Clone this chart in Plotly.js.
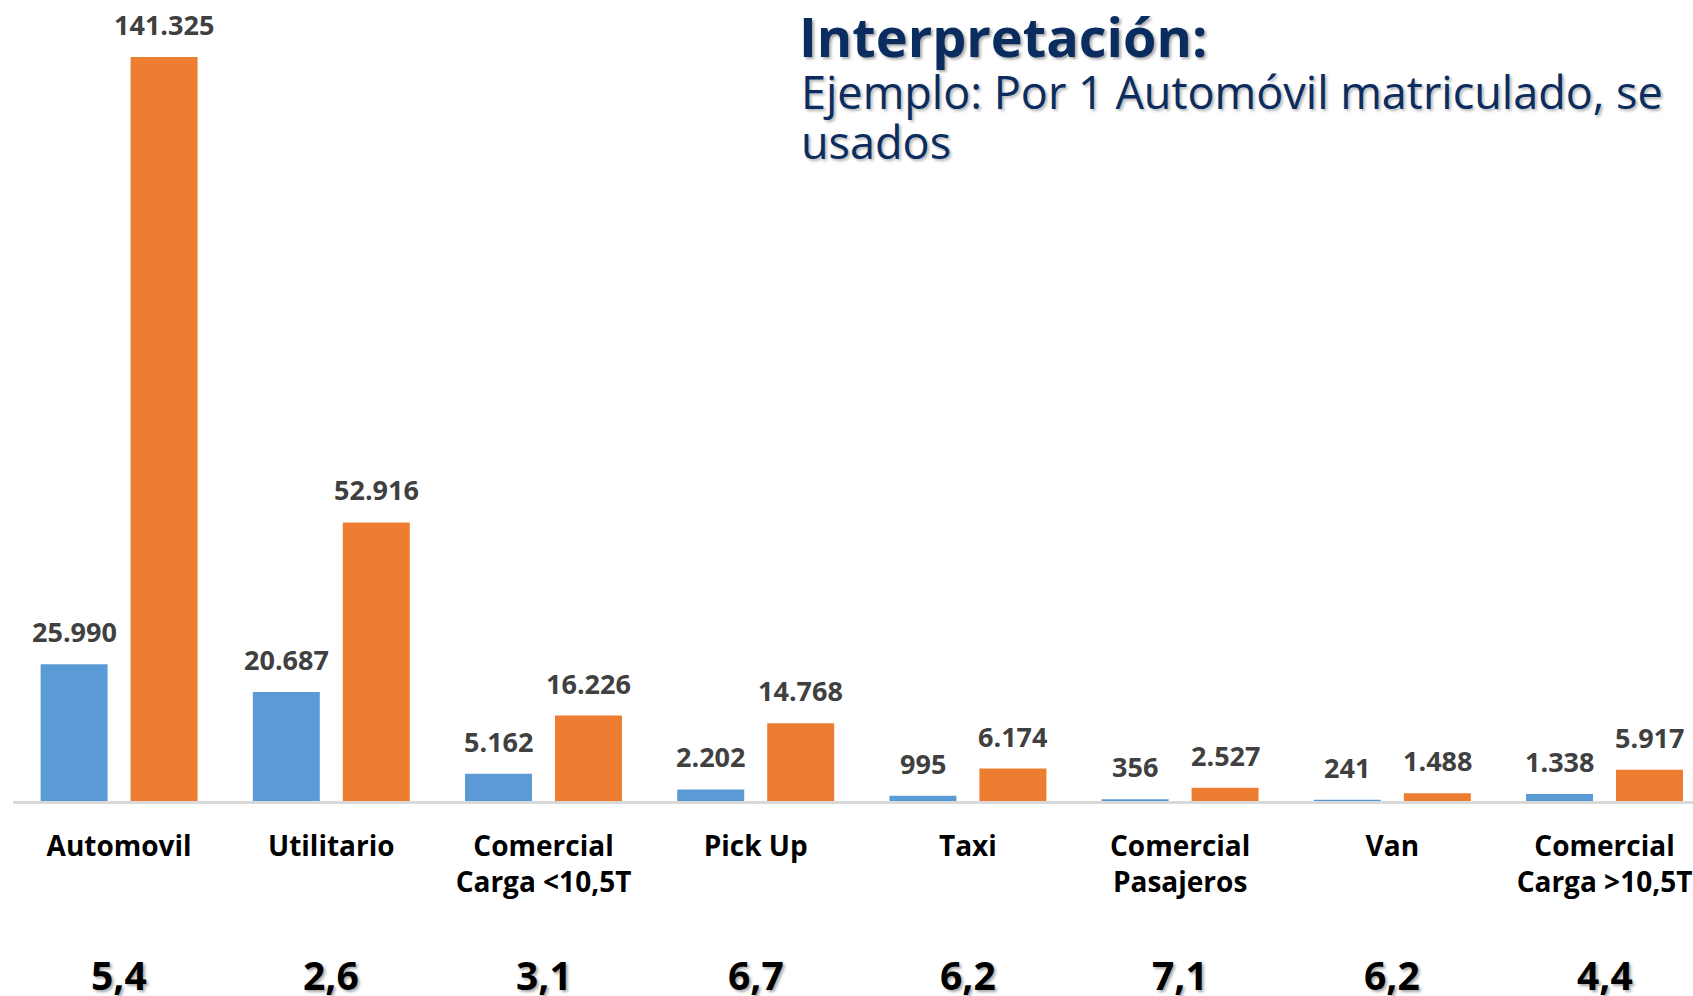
<!DOCTYPE html>
<html>
<head>
<meta charset="utf-8">
<script src="https://cdn.plot.ly/plotly-3.0.1.min.js"></script>
<style>html,body{margin:0;padding:0;background:#fff;}#chart{width:1693px;height:996px;}</style>
</head>
<body>
<div id="chart"></div>
<script>
// ---- data ----
const categories = ["Automovil", "Utilitario", "Comercial<br>Carga &lt;10,5T", "Pick Up", "Taxi", "Comercial<br>Pasajeros", "Van", "Comercial<br>Carga &gt;10,5T"];
const nuevos = [25990, 20687, 5162, 2202, 995, 356, 241, 1338];
const usados = [141325, 52916, 16226, 14768, 6174, 2527, 1488, 5917];
const ratios = ["5,4", "2,6", "3,1", "6,7", "6,2", "7,1", "6,2", "4,4"];
const titleText = "Interpretación:";
const subtitleLines = ["Ejemplo: Por 1 Automóvil matriculado, se", "usados"];

// ---- style ----
const FONT = "Open Sans, Liberation Sans, sans-serif";
const BLUE = "#5b9bd5", ORANGE = "#ed7d31", NAVY = "#0a2c5f";
const bargap = 0.152, bargroupgap = 0.2556;
const off = (1 - bargap) / 4;
const fmt = v => v.toString().replace(/\B(?=(\d{3})+(?!\d))/g, ".");

const traces = [
  {type: "bar", name: "0 km", x: categories, y: nuevos, marker: {color: BLUE}, hoverinfo: "skip"},
  {type: "bar", name: "Usados", x: categories, y: usados, marker: {color: ORANGE}, hoverinfo: "skip"}
];

const annotations = [];
const labelFont = {family: FONT, size: 27, color: "#404040", weight: 700};
categories.forEach((c, i) => {
  annotations.push({x: i - off, y: nuevos[i], xref: "x", yref: "y", text: fmt(nuevos[i]), showarrow: false,
    yanchor: "bottom", yshift: 12, font: labelFont});
  annotations.push({x: i + off, y: usados[i], xref: "x", yref: "y", text: fmt(usados[i]), showarrow: false,
    yanchor: "bottom", yshift: 12, font: labelFont});
  annotations.push({x: i, y: -0.2172, xref: "x", yref: "paper", text: ratios[i], showarrow: false,
    yanchor: "middle", font: {family: FONT, size: 39, color: "#000", weight: 700, shadow: "2px 2px 3px rgba(0,0,0,0.35)"}});
});
const subY = [0.9265, 0.8642];
subtitleLines.forEach((t, k) => {
  annotations.push({x: 0.46786, y: subY[k], xref: "paper", yref: "paper", xanchor: "left", yanchor: "top", align: "left",
    text: t, showarrow: false,
    font: {family: FONT, size: 45, color: NAVY, shadow: "2px 2px 3px rgba(0,0,0,0.3)"}});
});

const layout = {
  width: 1693, height: 996,
  margin: {l: 13, r: 0, t: 0, b: 195},
  paper_bgcolor: "#fff", plot_bgcolor: "#fff",
  barmode: "group", bargap: bargap, bargroupgap: bargroupgap,
  showlegend: false,
  title: {text: titleText, x: 0.4719, xref: "container", xanchor: "left", y: 0.981, yref: "container", yanchor: "top",
    font: {family: FONT, size: 54, color: NAVY, weight: 700, shadow: "2px 2px 3px rgba(0,0,0,0.35)"}},
  xaxis: {type: "category", range: [-0.5, 7.417], showline: true, linecolor: "#d9d9d9", linewidth: 3,
    ticks: "", showgrid: false, zeroline: false, automargin: false, ticklabelstandoff: 18,
    tickfont: {family: FONT, size: 28, color: "#000", weight: 700}},
  yaxis: {range: [0, 152150], visible: false, showgrid: false, zeroline: false, automargin: false},
  annotations: annotations,
  font: {family: FONT}
};

Plotly.newPlot("chart", traces, layout, {displayModeBar: false, staticPlot: true});
</script>
</body>
</html>
